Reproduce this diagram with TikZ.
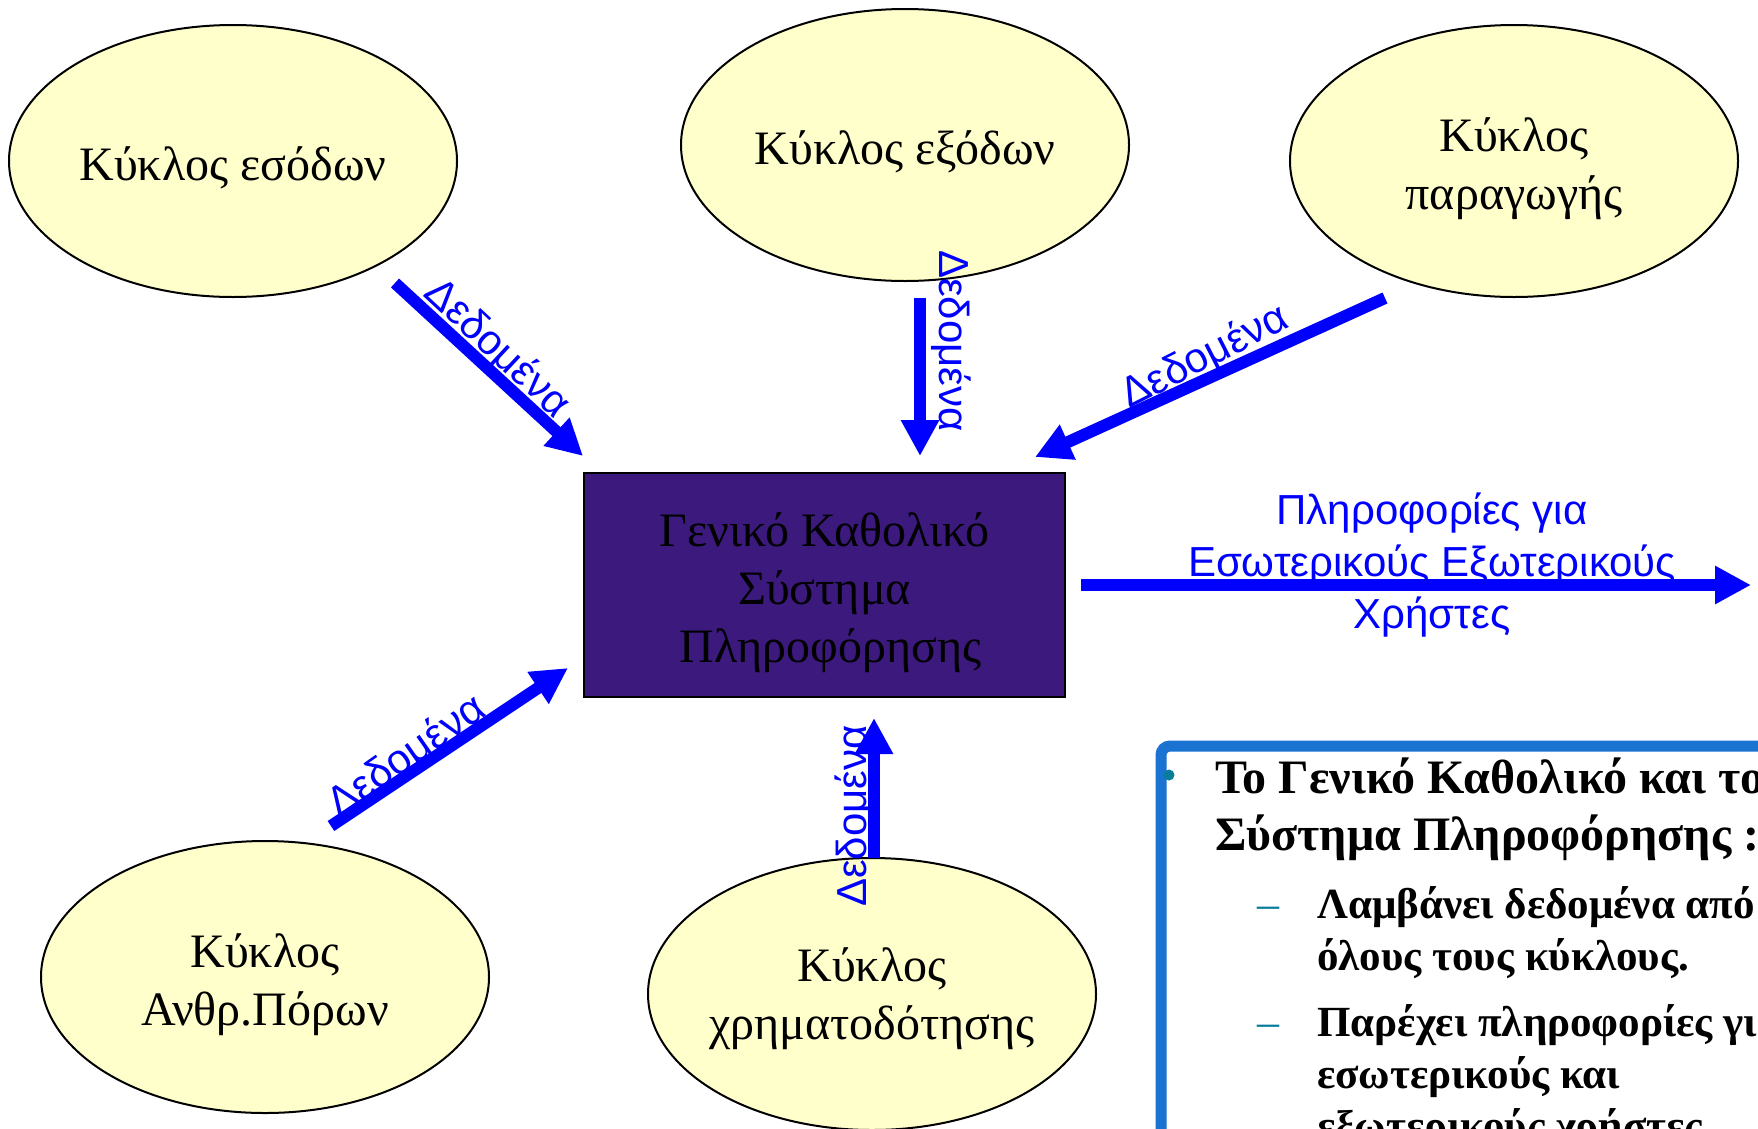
\documentclass[tikz,border=0pt]{standalone}
\usepackage{fontspec}
\setmainfont{Liberation Serif}
\newfontfamily\sansgr{Liberation Sans}
\usetikzlibrary{arrows.meta,shapes.geometric}
\definecolor{ellfill}{RGB}{255,255,204}
\definecolor{boxfill}{RGB}{60,25,125}
\definecolor{frameblue}{RGB}{26,115,208}
\definecolor{tealdot}{RGB}{8,125,155}
% zero-size, centred text block, lowered so that it sits like the reference
\newcommand\celltext[2][-14.5pt]{\makebox[0pt]{\raisebox{#1}[0pt][0pt]{\begin{tabular}{@{}c@{}}#2\end{tabular}}}}
\begin{document}
\begin{tikzpicture}[x=1pt,y=-1pt,
  cyc/.style={ellipse, draw=black, line width=2pt, fill=ellfill,
    minimum width=448pt, minimum height=272pt, inner sep=0pt,
    font=\fontsize{48}{58}\selectfont},
  flow/.style={draw=blue, line width=12pt, -{Triangle[width=36pt,length=36pt]}},
  lbl/.style={text=blue, font=\sansgr\fontsize{42}{52}\selectfont, inner sep=0pt},
  titleline/.style={anchor=base west, inner sep=0pt, font=\bfseries\fontsize{48}{57}\selectfont},
  subline/.style={anchor=base west, inner sep=0pt, font=\bfseries\fontsize{43}{52}\selectfont},
  dashmark/.style={anchor=base west, inner sep=0pt, text=tealdot, font=\fontsize{44}{53}\selectfont},
]
\useasboundingbox (0,0) rectangle (1758,1128);
\clip (0,0) rectangle (1758,1128);
\fill[white] (0,0) rectangle (1758,1128);

% cycles
\node[cyc] (inc)  at (233,161) {\celltext{Κύκλος εσόδων}};
\node[cyc] (exp)  at (905,145) {\celltext{Κύκλος εξόδων}};
\node[cyc] (prod) at (1514,161) {\celltext{Κύκλος\\παραγωγής}};
\node[cyc] (hr)   at (265,977) {\celltext{Κύκλος\\Ανθρ.Πόρων}};
\node[cyc] (fin)  at (872,994) {\celltext[-11pt]{Κύκλος\\χρηματοδότησης}};

% central box
\node[draw=black, line width=2.5pt, fill=boxfill, minimum width=481pt, minimum height=224pt,
  inner sep=0pt, font=\fontsize{48}{58}\selectfont] (gl) at (824.5,585)
  {\celltext{Γενικό Καθολικό\\Σύστημα\\\hspace*{12pt}Πληροφόρησης}};

% arrow end points
\coordinate (a1s) at (395,283);  \coordinate (a1e) at (583,456);
\coordinate (a2s) at (920,298);  \coordinate (a2e) at (920,456);
\coordinate (a3s) at (1385,298); \coordinate (a3e) at (1035,457);
\coordinate (a4s) at (331,826);  \coordinate (a4e) at (568,668);
\coordinate (a5s) at (874,858);  \coordinate (a5e) at (874,718);
\coordinate (a6s) at (1081,585); \coordinate (a6e) at (1751,585);

\draw[flow] (a1s) -- (a1e);
\draw[flow] (a2s) -- (a2e);
\draw[flow] (a3s) -- (a3e);
\draw[flow] (a4s) -- (a4e);
\draw[flow] (a5s) -- (a5e);
\draw[flow] (a6s) -- (a6e);

% labels
\node[lbl, rotate=-43] (l1) at (497,349) {Δεδομένα};
\node[lbl, rotate=-90] (l2) at (951,341) {Δεδομένα};
\node[lbl, rotate=27]  (l3) at (1205,357) {Δεδομένα};
\node[lbl, rotate=35]  (l4) at (407,757) {Δεδομένα};
\node[lbl, rotate=90]  (l5) at (855,816) {Δεδομένα};
\node[lbl, align=center] (l6) at (1432,565) {Πληροφορίες για\\Εσωτερικούς Εξωτερικούς\\Χρήστες};

% right text box
\draw[frameblue, line width=11pt, rounded corners=9pt] (1161,1300) -- (1161,746) -- (1900,746);
\fill[tealdot] (1169,775) circle (5.5pt);
\node[titleline] (t1) at (1215,793) {Το Γενικό Καθολικό και το};
\node[titleline] (t2) at (1215,850) {Σύστημα Πληροφόρησης :};
\node[dashmark] (d1) at (1257,918) {–};
\node[subline] (s1) at (1317,918) {Λαμβάνει δεδομένα από};
\node[subline] (s2) at (1317,970) {όλους τους κύκλους.};
\node[dashmark] (d2) at (1257,1036) {–};
\node[subline] (s3) at (1317,1036) {Παρέχει πληροφορίες για};
\node[subline] (s4) at (1317,1088) {εσωτερικούς και};
\node[subline] (s5) at (1317,1140) {εξωτερικούς χρήστες.};
\end{tikzpicture}
\end{document}
